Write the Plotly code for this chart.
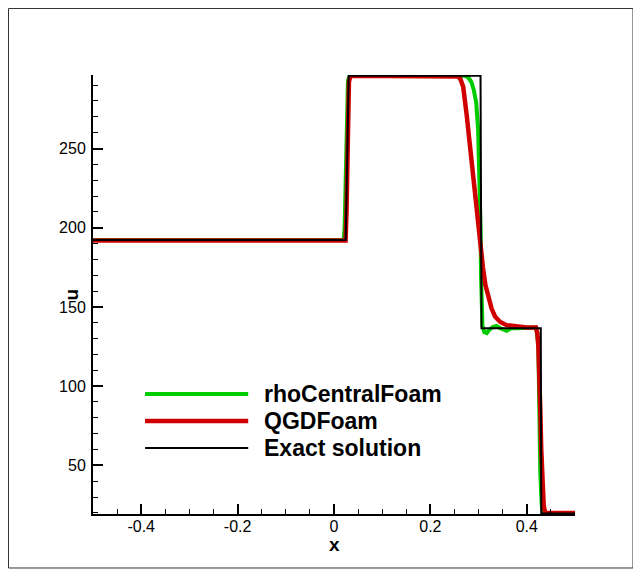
import plotly.graph_objects as go

# ---------------- data ----------------
x_exact = [-0.5, 0.0243, 0.0305, 0.304, 0.306, 0.429, 0.430, 0.5]
u_exact = [192.3, 192.3, 296.0, 296.0, 136.5, 136.5, 19.6, 19.6]

x_rho = [-0.5, 0.020, 0.022, 0.025, 0.027, 0.029, 0.033, 0.270, 0.278, 0.285,
         0.290, 0.295, 0.299, 0.302, 0.304, 0.305, 0.306, 0.308, 0.312, 0.317,
         0.322, 0.330, 0.337, 0.345, 0.358, 0.368, 0.379, 0.395, 0.413, 0.418,
         0.421, 0.424, 0.425, 0.426, 0.428, 0.431, 0.434, 0.5]
u_rho = [192.3, 192.3, 200.0, 240.0, 275.0, 293.0, 296.0, 296.0, 295.0, 292.0,
         287.0, 279.0, 262.0, 235.0, 200.0, 170.0, 150.0, 138.0, 134.0, 133.5,
         135.5, 137.5, 138.0, 136.5, 135.0, 136.5, 136.5, 137.0, 137.0, 137.0,
         134.0, 125.0, 100.0, 72.0, 45.0, 25.0, 20.0, 20.0]

x_qgd = [-0.5, 0.024, 0.026, 0.029, 0.031, 0.034, 0.250, 0.257, 0.262, 0.268,
         0.275, 0.282, 0.289, 0.296, 0.301, 0.305, 0.309, 0.314, 0.320, 0.327,
         0.334, 0.345, 0.358, 0.380, 0.400, 0.419, 0.422, 0.424, 0.426, 0.428,
         0.430, 0.432, 0.435, 0.438, 0.5]
u_qgd = [192.0, 192.0, 210.0, 260.0, 292.0, 296.0, 296.0, 295.5, 294.0, 289.0,
         272.0, 251.0, 230.0, 211.0, 196.5, 185.0, 175.0, 164.0, 156.0, 149.0,
         144.0, 140.5, 138.5, 137.5, 137.0, 137.0, 133.0, 125.0, 112.0, 85.0,
         60.0, 40.0, 25.0, 20.0, 20.0]

series_names = ["rhoCentralFoam", "QGDFoam", "Exact solution"]
series_colors = ["#00cc00", "#d00000", "#000000"]
series_widths = [4, 4.5, 2]

x_range = [-0.5, 0.5]
y_range = [19.3, 296.4]
x_tickvals = [-0.4, -0.2, 0, 0.2, 0.4]
x_ticktext = ["-0.4", "-0.2", "0", "0.2", "0.4"]
y_tickvals = [50, 100, 150, 200, 250]
y_ticktext = ["50", "100", "150", "200", "250"]

FONT = "Liberation Sans, Arial, sans-serif"

fig = go.Figure()
for xs, us, name, col, w in zip([x_rho, x_qgd, x_exact], [u_rho, u_qgd, u_exact],
                                series_names, series_colors, series_widths):
    fig.add_trace(go.Scatter(x=xs, y=us, mode="lines", name=name,
                             line=dict(color=col, width=w), showlegend=False))

axis_common = dict(
    showline=True, linecolor="black", linewidth=2, mirror=False,
    showgrid=False, zeroline=False,
    ticks="inside", ticklen=10, tickwidth=2, tickcolor="black",
    tickfont=dict(family=FONT, size=16, color="black"),
)

fig.update_xaxes(range=x_range, tickmode="array", tickvals=x_tickvals, ticktext=x_ticktext,
                 minor=dict(dtick=0.05, tick0=0, ticks="inside", ticklen=5, tickwidth=1,
                            tickcolor="black", showgrid=False),
                 ticklabelstandoff=-3, **axis_common)
fig.update_yaxes(range=y_range, tickmode="array", tickvals=y_tickvals, ticktext=y_ticktext,
                 minor=dict(dtick=10, tick0=0, ticks="inside", ticklen=5, tickwidth=1,
                            tickcolor="black", showgrid=False),
                 ticklabelstandoff=2, **axis_common)

# manual legend (long sample lines as in the reference)
leg_y = [0.2733, 0.2118, 0.1503]
shapes = []
annotations = []
for name, col, w, yy in zip(series_names, series_colors, series_widths, leg_y):
    shapes.append(dict(type="line", xref="paper", yref="paper", x0=0.108, x1=0.322,
                       y0=yy, y1=yy, line=dict(color=col, width=w)))
    annotations.append(dict(xref="paper", yref="paper", x=0.351, y=yy, text="<b>%s</b>" % name,
                            showarrow=False, xanchor="left", yanchor="middle",
                            font=dict(family=FONT, size=23, color="black")))

# axis titles
annotations.append(dict(xref="paper", yref="paper", x=0.5, y=-0.0706, text="<b>x</b>",
                        showarrow=False, xanchor="center", yanchor="middle",
                        font=dict(family=FONT, size=19, color="black")))
annotations.append(dict(xref="paper", yref="paper", x=-0.0436, y=0.5, text="<b>u</b>",
                        showarrow=False, xanchor="center", yanchor="middle", textangle=-90,
                        font=dict(family=FONT, size=19, color="black")))

# outer frame
shapes.append(dict(type="rect", xref="paper", yref="paper", x0=-0.1753, x1=1.1203,
                   y0=-0.123, y1=1.1515, line=dict(color="#333333", width=1)))

fig.update_layout(
    width=641, height=577,
    margin=dict(l=85, r=74, t=67, b=71),
    paper_bgcolor="white", plot_bgcolor="white",
    shapes=shapes, annotations=annotations,
    font=dict(family=FONT, color="black"),
)

fig.write_html("out.html")
